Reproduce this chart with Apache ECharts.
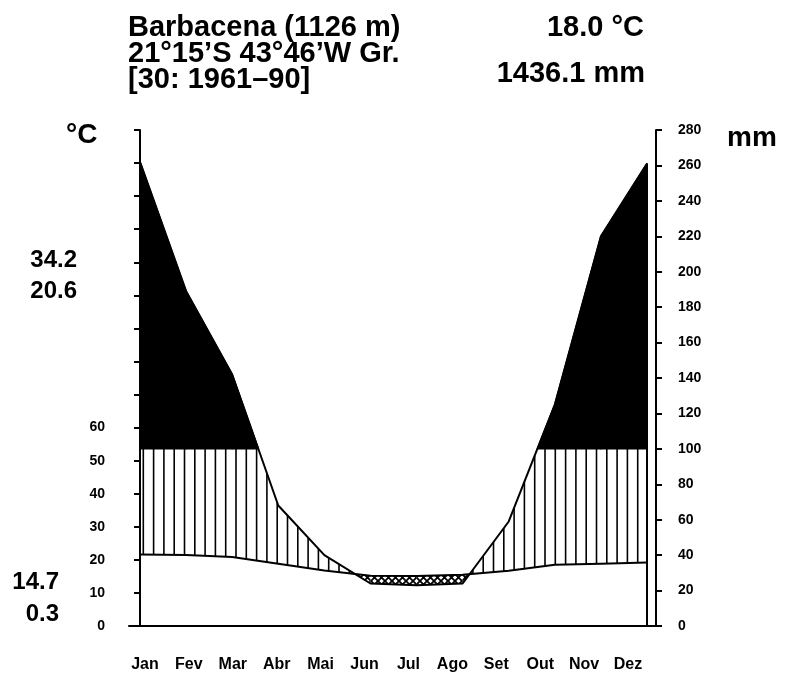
<!DOCTYPE html>
<html>
<head>
<meta charset="utf-8">
<script src="https://cdn.jsdelivr.net/npm/echarts@6/dist/echarts.min.js"></script>
<style>
  html, body { margin: 0; padding: 0; background: #fff; }
  #chart { width: 785px; height: 677px; }
</style>
</head>
<body>
<div id="chart"></div>
<script>
// Barbacena climate diagram (Walter-Lieth style)
var MONTHS = ['Jan', 'Fev', 'Mar', 'Abr', 'Mai', 'Jun', 'Jul', 'Ago', 'Set', 'Out', 'Nov', 'Dez'];
var TEMP = [21.6, 21.5, 20.9, 18.8, 16.8, 15.2, 15.1, 15.5, 16.7, 18.5, 18.8, 19.2];   // °C
var PREC = [262, 189, 142, 68, 40, 24, 23, 24, 59, 125, 220, 261];                     // mm
var TEMP_MAX = 150, TEMP_STEP = 10, TEMP_LABEL_MAX = 60;
var PREC_MAX = 280, PREC_STEP = 20;
var WET_CAP = 100;   // above this the precipitation is filled black

var FONT = '"Liberation Sans", Arial, sans-serif';
var chart = echarts.init(document.getElementById('chart'));

// small crosshatch tile for the dry period
function makeHatch() {
  var c = document.createElement('canvas');
  c.width = 7; c.height = 7;
  var g = c.getContext('2d');
  g.fillStyle = '#fff';
  g.fillRect(0, 0, 7, 7);
  g.strokeStyle = '#000';
  g.lineWidth = 1.8;
  g.beginPath();
  g.moveTo(0, 0); g.lineTo(7, 7);
  g.moveTo(7, 0); g.lineTo(0, 7);
  g.stroke();
  return c;
}
var hatchTile = makeHatch();

function precipY(v) {
  return chart.convertToPixel({ yAxisIndex: 1 }, v);
}

// region where upper curve u is above lower curve l (pixel y, smaller = higher)
function regionPoly(x0, x1, u0, u1, l0, l1) {
  var d0 = l0 - u0, d1 = l1 - u1;
  if (d0 <= 0 && d1 <= 0) return null;
  if (d0 >= 0 && d1 >= 0) return [[x0, u0], [x1, u1], [x1, l1], [x0, l0]];
  var s = d0 / (d0 - d1);
  var xs = x0 + s * (x1 - x0), ys = u0 + s * (u1 - u0);
  if (d0 > 0) return [[x0, u0], [xs, ys], [x0, l0]];
  return [[xs, ys], [x1, u1], [x1, l1]];
}

function renderItem(params, api) {
  var i = api.value(0);
  var a = api.coord([i, api.value(1)]);
  var b = api.coord([i + 1, api.value(3)]);
  var x0 = a[0], x1 = b[0], t0 = a[1], t1 = b[1];
  var r0 = precipY(api.value(2)), r1 = precipY(api.value(4));
  var cap = precipY(WET_CAP);
  var base = api.coord([i, 0])[1];
  var xJan = api.coord([0, 0])[0];
  var kids = [];

  // black: precipitation above 100 mm
  var blk = regionPoly(x0, x1, r0, r1, cap, cap);
  if (blk) kids.push({ type: 'polygon', shape: { points: blk }, style: { fill: '#000', stroke: '#000', lineWidth: 1.5, lineJoin: 'round' } });

  // vertical hatching: humid period
  for (var hx = xJan + 3.3; hx < x1; hx += 10.3) {
    if (hx < x0) continue;
    var s = (hx - x0) / (x1 - x0);
    var yp = r0 + s * (r1 - r0), yt = t0 + s * (t1 - t0);
    var top = Math.max(yp, cap);
    if (top < yt) kids.push({ type: 'line', shape: { x1: hx, y1: top, x2: hx, y2: yt }, style: { stroke: '#000', lineWidth: 1.6 } });
  }

  // crosshatch: dry period
  var dry = regionPoly(x0, x1, t0, t1, r0, r1);
  if (dry) kids.push({ type: 'polygon', shape: { points: dry }, style: { fill: { image: hatchTile, repeat: 'repeat' } } });

  // closing verticals at both ends
  if (i === 0) kids.push({ type: 'line', shape: { x1: x0, y1: base, x2: x0, y2: r0 }, style: { stroke: '#000', lineWidth: 2 } });
  if (i === MONTHS.length - 2) kids.push({ type: 'line', shape: { x1: x1, y1: base, x2: x1, y2: r1 }, style: { stroke: '#000', lineWidth: 2 } });

  return { type: 'group', children: kids };
}

var segData = [];
for (var k = 0; k < MONTHS.length - 1; k++) {
  segData.push([k, TEMP[k], PREC[k], TEMP[k + 1], PREC[k + 1]]);
}

function txt(x, y, text, size, align) {
  return {
    type: 'text', x: x, y: y, z: 10,
    style: {
      text: text, fill: '#000',
      font: 'bold ' + size + 'px ' + FONT,
      align: align, textAlign: align,
      verticalAlign: 'middle', textVerticalAlign: 'middle'
    }
  };
}

var axisLabelStyle = { color: '#000', fontWeight: 'bold', fontFamily: FONT };

chart.setOption({
  animation: false,
  backgroundColor: '#fff',
  grid: { left: 129, right: 129, top: 130, bottom: 51 },
  xAxis: [
    {
      type: 'value', show: false,
      min: -0.2387, max: 11.195
    },
    {
      type: 'category', data: MONTHS, position: 'bottom', boundaryGap: true,
      axisLine: { lineStyle: { color: '#000', width: 2 } },
      axisTick: { length: 9, lineStyle: { color: '#000', width: 2 } },
      axisLabel: Object.assign({ fontSize: 16, margin: 31, lineHeight: 16, padding: [0, 12, 0, 0] }, axisLabelStyle),
      splitLine: { show: false }
    }
  ],
  yAxis: [
    {
      type: 'value', min: 0, max: TEMP_MAX, interval: TEMP_STEP, position: 'left',
      axisLine: { show: true, lineStyle: { color: '#000', width: 2 } },
      axisTick: { show: true, length: 6, lineStyle: { color: '#000', width: 2 } },
      axisLabel: Object.assign({
        fontSize: 14, margin: 24,
        formatter: function (v) { return v <= TEMP_LABEL_MAX ? String(v) : ''; }
      }, axisLabelStyle),
      splitLine: { show: false }
    },
    {
      type: 'value', min: 0, max: PREC_MAX, interval: PREC_STEP, position: 'right',
      axisLine: { show: true, lineStyle: { color: '#000', width: 2 } },
      axisTick: { show: true, length: 6, lineStyle: { color: '#000', width: 2 } },
      axisLabel: Object.assign({ fontSize: 14, margin: 22 }, axisLabelStyle),
      splitLine: { show: false }
    }
  ],
  series: [
    {
      type: 'custom', name: 'areas', xAxisIndex: 0, yAxisIndex: 0, z: 2,
      renderItem: renderItem, data: segData,
      encode: { x: 0, y: 1 }
    },
    {
      type: 'line', name: 'Temperatura', xAxisIndex: 0, yAxisIndex: 0, z: 4,
      data: TEMP.map(function (v, i) { return [i, v]; }),
      symbol: 'none', lineStyle: { color: '#000', width: 2, join: 'round' }
    },
    {
      type: 'line', name: 'Precipitação', xAxisIndex: 0, yAxisIndex: 1, z: 4,
      data: PREC.map(function (v, i) { return [i, v]; }),
      symbol: 'none', lineStyle: { color: '#000', width: 2, join: 'round' }
    }
  ],
  graphic: [
    txt(128, 27.5, 'Barbacena (1126 m)', 29, 'left'),
    txt(128, 53.5, '21°15\u2019S 43°46\u2019W Gr.', 29, 'left'),
    txt(128, 80, '[30: 1961\u201390]', 29, 'left'),
    txt(644, 27.5, '18.0 °C', 29, 'right'),
    txt(645, 74, '1436.1 mm', 29, 'right'),
    txt(66, 135, '°C', 28, 'left'),
    txt(727, 138, 'mm', 28, 'left'),
    txt(77, 260, '34.2', 24, 'right'),
    txt(77, 291.5, '20.6', 24, 'right'),
    txt(59, 582, '14.7', 24, 'right'),
    txt(59, 614, '0.3', 24, 'right')
  ]
});
</script>
</body>
</html>
